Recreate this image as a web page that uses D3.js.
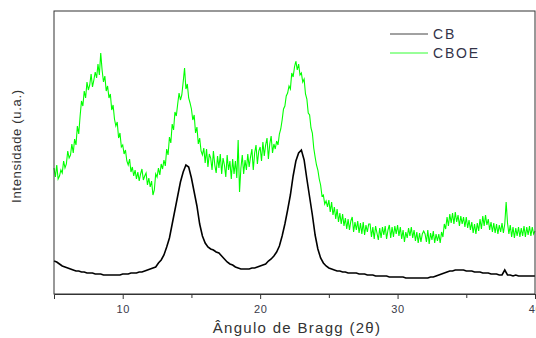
<!DOCTYPE html>
<html>
<head>
<meta charset="utf-8">
<script src="https://cdn.jsdelivr.net/npm/d3@7"></script>
<style>
  body { margin: 0; background: #fff; }
  text { font-family: "Liberation Sans", Arial, sans-serif; }
</style>
</head>
<body>
<div id="chart"></div>
<script>
// diffraction angle grid (2theta, degrees) and measured intensities (a.u.)
const angleRange = [5, 40];
const stepCBOE = 0.1;
const stepCB = 0.2;
const xTicks = [10, 20, 30, 40];
const xMinorTicks = [15, 25, 35];
const seriesNames = ["CB", "CBOE"];

// CBOE, one row per degree (10 points of 0.1)
const intensityCBOE = [
  126,117,129,115,118,124,121,133,126,130,
  143,136,139,150,141,155,149,168,160,178,
  193,188,203,196,212,204,209,220,207,214,
  222,216,230,219,241,224,212,218,203,208,
  196,200,184,189,175,168,172,156,161,147,
  149,140,144,133,129,135,122,127,118,124,
  115,122,113,120,125,114,118,121,109,116,
  107,113,99,104,120,117,126,119,130,125,
  134,128,145,139,157,151,170,164,182,178,
  190,201,194,199,212,226,205,210,196,191,
  185,174,179,161,167,150,156,143,139,146,
  131,145,127,140,136,124,143,129,121,138,
  126,140,120,136,129,117,139,124,133,115,
  135,120,133,116,154,102,126,139,120,134,
  124,140,127,137,145,124,141,149,130,143,
  147,133,152,138,149,156,135,150,158,141,
  150,145,153,149,160,165,174,185,188,198,
  201,208,205,221,217,227,233,224,230,219,
  221,212,215,200,195,181,179,166,161,146,
  137,129,124,115,109,98,99,90,93,87,
  94,82,92,79,87,75,85,72,81,70,
  80,68,76,65,75,64,73,77,62,72,
  64,73,61,71,60,72,59,69,62,70,
  70,57,67,55,68,61,54,66,56,67,
  59,68,55,64,69,56,67,57,68,60,
  69,58,67,55,64,52,62,56,66,58,
  67,56,64,53,62,51,61,52,60,63,
  60,52,64,50,61,54,63,51,60,53,
  60,51,62,57,70,65,77,68,80,71,
  81,70,82,72,79,68,78,70,77,67,
  77,66,74,64,72,61,70,60,71,63,
  75,65,78,68,79,69,75,64,72,62,
  71,61,70,60,69,62,71,61,70,92,
  71,60,69,57,67,56,66,58,67,57,
  66,58,68,57,67,59,68,58,67,60,
  63
];

// CB, 5 points per degree (step 0.2)
const intensityCB = [
  33,32,30,28,27, 26,25,24,23,23,
  22,22,21,21,21, 20,20,20,19,19,
  19,19,19,19,19, 20,20,20,21,21,
  21,22,22,23,24, 25,26,27,31,34,
  39,47,56,70,84, 98,112,122,129,127,
  116,102,88,70,58, 51,47,45,44,42,
  41,38,35,32,30, 29,27,26,25,25,
  25,25,26,26,27, 28,29,30,33,35,
  38,42,48,58,70, 84,99,118,133,141,
  144,134,115,97,79, 59,45,36,31,28,
  26,25,24,23,23, 22,22,21,21,21,
  21,20,20,20,19, 19,19,18,18,18,
  18,18,17,17,17, 17,17,17,16,16,
  16,16,16,16,16, 16,16,17,17,18,
  19,20,21,22,23, 23,24,24,24,24,
  23,23,23,22,22, 22,21,21,21,20,
  20,20,19,19,24, 19,19,18,19,18,
  18,18,18,18,18,
  18
];

const width = 536, height = 338;
const margin = { top: 11, right: 1, bottom: 44, left: 54 };

const svg = d3.select("#chart").append("svg")
  .attr("width", width)
  .attr("height", height);

const x = d3.scaleLinear().domain(angleRange).range([margin.left, width - margin.right]);
const y = d3.scaleLinear().domain([0, 283]).range([height - margin.bottom, margin.top]);

const gridCBOE = intensityCBOE.map((v, i) => ({ a: angleRange[0] + i * stepCBOE, v }));
const gridCB = intensityCB.map((v, i) => ({ a: angleRange[0] + i * stepCB, v }));

const line = d3.line().x(d => x(d.a)).y(d => y(d.v));

svg.append("path").datum(gridCBOE)
  .attr("fill", "none").attr("stroke", "#00ff00").attr("stroke-width", 1.1)
  .attr("d", line);

svg.append("path").datum(gridCB)
  .attr("fill", "none").attr("stroke", "#000").attr("stroke-width", 1.6)
  .attr("d", line);

// frame
svg.append("rect")
  .attr("x", margin.left).attr("y", margin.top)
  .attr("width", width - margin.left - margin.right)
  .attr("height", height - margin.top - margin.bottom)
  .attr("fill", "none").attr("stroke", "#333").attr("stroke-width", 1);

// x axis
const xAxis = svg.append("g")
  .attr("transform", `translate(0,${height - margin.bottom})`)
  .call(d3.axisBottom(x).tickValues(xTicks).tickSize(5).tickPadding(6).tickFormat(d3.format("d")));
xAxis.select(".domain").attr("stroke", "#333");
xAxis.selectAll(".tick line").attr("stroke", "#333");
xAxis.selectAll("text").attr("font-size", 11).attr("letter-spacing", 0.6).attr("fill", "#3a3a4a");

svg.append("g")
  .attr("transform", `translate(0,${height - margin.bottom})`)
  .call(d3.axisBottom(x).tickValues(xMinorTicks).tickSize(4).tickFormat(""))
  .call(g => g.select(".domain").remove())
  .selectAll(".tick line").attr("stroke", "#333");

svg.append("text")
  .attr("x", 297)
  .attr("y", 333)
  .attr("text-anchor", "middle")
  .attr("font-size", 15)
  .attr("letter-spacing", 1.3)
  .attr("fill", "#333")
  .text("Ângulo de Bragg (2θ)");

svg.append("text")
  .attr("transform", `translate(21,146) rotate(-90)`)
  .attr("text-anchor", "middle")
  .attr("font-size", 13)
  .attr("letter-spacing", 0.7)
  .attr("fill", "#333")
  .text("Intensidade (u.a.)");

// legend
const legendColors = ["#444", "#33ff33"];
const legend = svg.append("g");
seriesNames.forEach((name, i) => {
  const ly = 34 + i * 19;
  legend.append("line")
    .attr("x1", 390).attr("x2", 428).attr("y1", ly).attr("y2", ly)
    .attr("stroke", legendColors[i]).attr("stroke-width", 1);
  legend.append("text")
    .attr("x", 433).attr("y", ly).attr("dy", "0.36em")
    .attr("font-size", 14).attr("letter-spacing", 1.8).attr("fill", "#333348")
    .text(name);
});
</script>
</body>
</html>
